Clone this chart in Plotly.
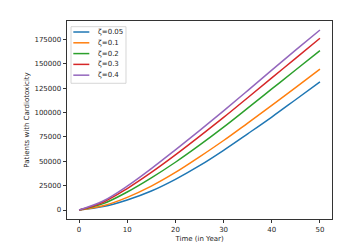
import plotly.graph_objects as go

years = [0, 5, 10, 15, 20, 25, 30, 35, 40, 45, 50]
labels = ["ζ=0.05", "ζ=0.1", "ζ=0.2", "ζ=0.3", "ζ=0.4"]
zeta_005 = [0, 3500, 10300, 19500, 31500, 45500, 61300, 78200, 95400, 113400, 131400]
zeta_01 = [0, 4300, 13000, 24500, 38500, 54500, 71300, 89200, 107300, 125900, 144500]
zeta_02 = [0, 6500, 18500, 33000, 49000, 66500, 85000, 104500, 124200, 143900, 163500]
zeta_03 = [0, 8000, 22000, 38500, 56500, 75500, 95000, 115200, 135500, 155900, 176200]
zeta_04 = [0, 9250, 24500, 42500, 61750, 81500, 101750, 122500, 143500, 164250, 184700]
series = [zeta_005, zeta_01, zeta_02, zeta_03, zeta_04]
colors = ["#1f77b4", "#ff7f0e", "#2ca02c", "#d62728", "#9467bd"]
x_ticks = [0, 10, 20, 30, 40, 50]
y_ticks = [0, 25000, 50000, 75000, 100000, 125000, 150000, 175000]

fig = go.Figure()
for lab, ys, c in zip(labels, series, colors):
    fig.add_trace(go.Scatter(x=years, y=ys, mode="lines", name=lab,
                             line=dict(color=c, width=1.5, shape="spline")))

font = dict(family="DejaVu Sans", size=7, color="#262626")
axis_common = dict(showline=True, linecolor="#333333", linewidth=0.8, mirror=True,
                   ticks="outside", ticklen=3.5, tickwidth=0.8, tickcolor="#333333",
                   showgrid=False, zeroline=False, tickfont=font, automargin=False)

# manual legend (matplotlib style)
shapes = [dict(type="rect", xref="paper", yref="paper", x0=0.0151, x1=0.2226,
               y0=0.6854, y1=0.9712, line=dict(color="#cccccc", width=0.8),
               fillcolor="rgba(255,255,255,0.8)", layer="above")]
annotations = []
y0, dy = 0.9444, 0.0545
for i, (lab, c) in enumerate(zip(labels, colors)):
    yy = y0 - i * dy
    shapes.append(dict(type="line", xref="paper", yref="paper", x0=0.0238, x1=0.0842,
                       y0=yy, y1=yy, line=dict(color=c, width=1.5), layer="above"))
    annotations.append(dict(xref="paper", yref="paper", x=0.1094, y=yy, text=lab,
                            showarrow=False, xanchor="left", yanchor="middle", font=font))

# the page body has an 8px default margin, so the figure is 8px smaller and offset
fig.update_layout(
    width=352, height=244,
    margin=dict(l=59, r=28, t=13, b=33),
    paper_bgcolor="white", plot_bgcolor="white",
    font=font,
    xaxis=dict(range=[-2.5, 52.5], tickvals=x_ticks,
               title=dict(text="Time (in Year)", font=font, standoff=3), **axis_common),
    yaxis=dict(range=[-9235, 193935], tickvals=y_ticks, tickformat="d",
               title=dict(text="Patients with Cardiotoxicity", font=font, standoff=4), **axis_common),
    shapes=shapes, annotations=annotations,
    showlegend=False,
)
fig.write_html("out.html")
